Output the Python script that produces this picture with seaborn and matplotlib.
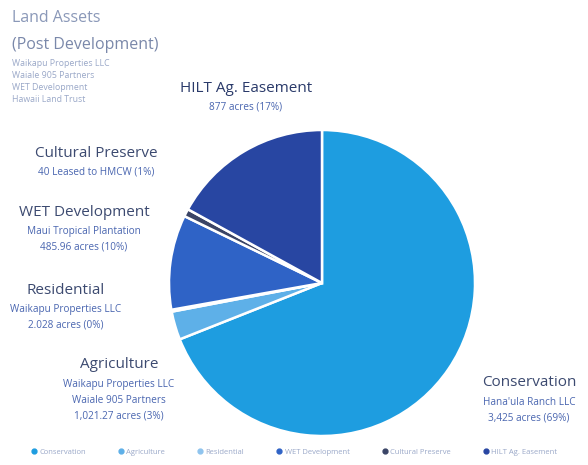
import matplotlib
matplotlib.use("Agg")
import matplotlib.pyplot as plt
import seaborn as sns

# Data (shares of total land)
categories = ['Conservation', 'Agriculture', 'Residential', 'WET Development',
              'Cultural Preserve', 'HILT Ag. Easement']
shares = [69, 3, 0.2, 10, 0.8, 17]
colors = ['#1e9de0', '#5eb0e8', '#8fc4ee', '#2f63c6', '#3a4466', '#2846a2']

owners = ['Hana\'ula Ranch LLC',
          'Waikapu Properties LLC\nWaiale 905 Partners',
          'Waikapu Properties LLC',
          'Maui Tropical Plantation',
          '',
          '']
acres = ['3,425 acres (69%)', '1,021.27 acres (3%)', '2.028 acres (0%)',
         '485.96 acres (10%)', '40 Leased to HMCW (1%)', '877 acres (17%)']

title_lines = ['Waikapu Properties LLC', 'Waiale 905 Partners',
               'WET Development', 'Hawaii Land Trust']

sns.set_theme(style="white")
plt.rcParams['font.family'] = ['Open Sans', 'DejaVu Sans']

W, H = 588, 465
fig = plt.figure(figsize=(W / 100, H / 100), dpi=100)

# pie placement: center (322, 283) px, radius 153 px
cx, cy, r = 322, 283, 153
pad = 1.03
size = 2 * r * pad
ax = fig.add_axes([(cx - r * pad) / W, (H - cy - r * pad) / H, size / W, size / H])
ax.pie(shares, colors=colors, startangle=90, counterclock=False,
       wedgeprops=dict(edgecolor='white', linewidth=1.8))
ax.set_xlim(-pad, pad)
ax.set_ylim(-pad, pad)
ax.set_aspect('equal')
ax.axis('off')

head_c = '#3c4a70'
sub_c = '#4a66b0'


def px(x, y):
    return x / W, 1 - y / H


# Title block
fig.text(*px(12, 18), 'Land Assets', color='#8a98b8', fontsize=11.5, va='center')
fig.text(*px(12, 45), '(Post Development)', color='#7a88aa', fontsize=11.5, va='center')
for i, line in enumerate(title_lines):
    fig.text(*px(12, 63 + i * 12), line, color='#9aa8c8', fontsize=6.3, va='center')

# Category labels: (heading center x, heading y)
label_pos = {
    'HILT Ag. Easement': (246, 88),
    'Cultural Preserve': (96, 153),
    'WET Development': (84, 212),
    'Residential': (66, 290),
    'Agriculture': (119, 365),
    'Conservation': (529, 383),
}
for cat, own, ac in zip(categories, owners, acres):
    x, y = label_pos[cat]
    c = '#2a3a6a' if cat == 'HILT Ag. Easement' else head_c
    fig.text(*px(x, y), cat, color=c, fontsize=11, ha='center', va='center')
    lines = [l for l in own.split('\n') if l] + [ac]
    for j, l in enumerate(lines):
        fig.text(*px(x, y + 19 + j * 16), l, color=sub_c, fontsize=7.2,
                 ha='center', va='center')

# Legend along the bottom
handles = [plt.Line2D([0], [0], marker='o', linestyle='', markersize=3.5,
                      markerfacecolor=c, markeredgecolor=c) for c in colors]
fig.legend(handles, categories, loc='center', bbox_to_anchor=(0.5, 1 - 452 / H),
           ncol=6, frameon=False, fontsize=5.5, labelcolor='#9aa8c8',
           handletextpad=0.3, columnspacing=4.2, handlelength=0.8)

fig.savefig('out.png', dpi=100, facecolor='white')
